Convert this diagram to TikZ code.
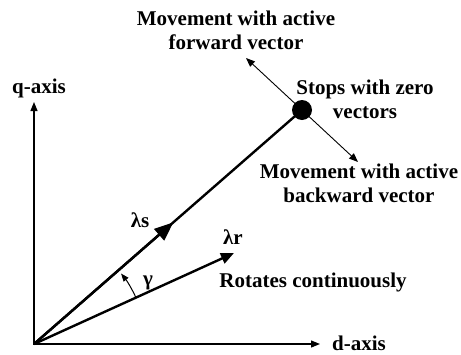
\documentclass[tikz,border=0pt]{standalone}
\usepackage{fontspec}
\setmainfont{Liberation Serif}
\usetikzlibrary{arrows.meta,calc}
\begin{document}
\begin{tikzpicture}[x=1pt,y=-1pt,
  lbl/.style={font=\fontsize{21}{24}\selectfont\bfseries, align=center, inner sep=0pt},
  axis/.style={line width=1.2pt, -{Triangle[length=9pt,width=7pt]}},
  vec/.style={line width=2.4pt},
  thin/.style={line width=0.9pt, -{Triangle[length=9pt,width=7pt]}}]
\useasboundingbox (0,0) rectangle (461,354);
\coordinate (O) at (34,344);
\coordinate (qtip) at (34,102);
\coordinate (dtip) at (320,344);
\node[circle, fill=black, minimum size=20pt, inner sep=0pt] (dot) at (302,110) {};
\coordinate (rtip) at (234,253);
\coordinate (ftip) at (246,58);
\coordinate (btip) at (358,162);
% axes
\draw[axis] (O) -- (qtip);
\draw[axis] (O) -- (dtip);
% lambda s
\draw[vec, line cap=round] (O) -- (dot.center);
\draw[line width=2.4pt, -{Triangle[length=19pt,width=15pt]}] (O) -- ($(O)!0.52!(dot.center)$);
% lambda r
\draw[vec, -{Triangle[length=13pt,width=11pt]}] (O) -- (rtip);
% forward / backward
\draw[thin] (dot.center) -- (ftip);
\draw[thin] (dot.center) -- (btip);
% gamma arc
\draw[line width=1pt, -{Triangle[length=8pt,width=6pt]}] ($(O)+(24.5:112 and -112)$) arc[start angle=-24.5, end angle=-39, radius=112];
% labels
\node[lbl] (ql) at (39,88) {q-axis};
\node[lbl] (dl) at (359,343) {d-axis};
\node[lbl] (fl) at (236,30) {Movement with active\\forward vector};
\node[lbl] (sl) at (365,99) {Stops with zero\\vectors};
\node[lbl] (bl) at (359,183) {Movement with active\\backward vector};
\node[lbl] (ls) at (140,220) {λs};
\node[lbl] (lr) at (233,237) {λr};
\node[lbl] (gl) at (148,283) {γ};
\node[lbl] (rl) at (313,282) {Rotates continuously};
\end{tikzpicture}
\end{document}
